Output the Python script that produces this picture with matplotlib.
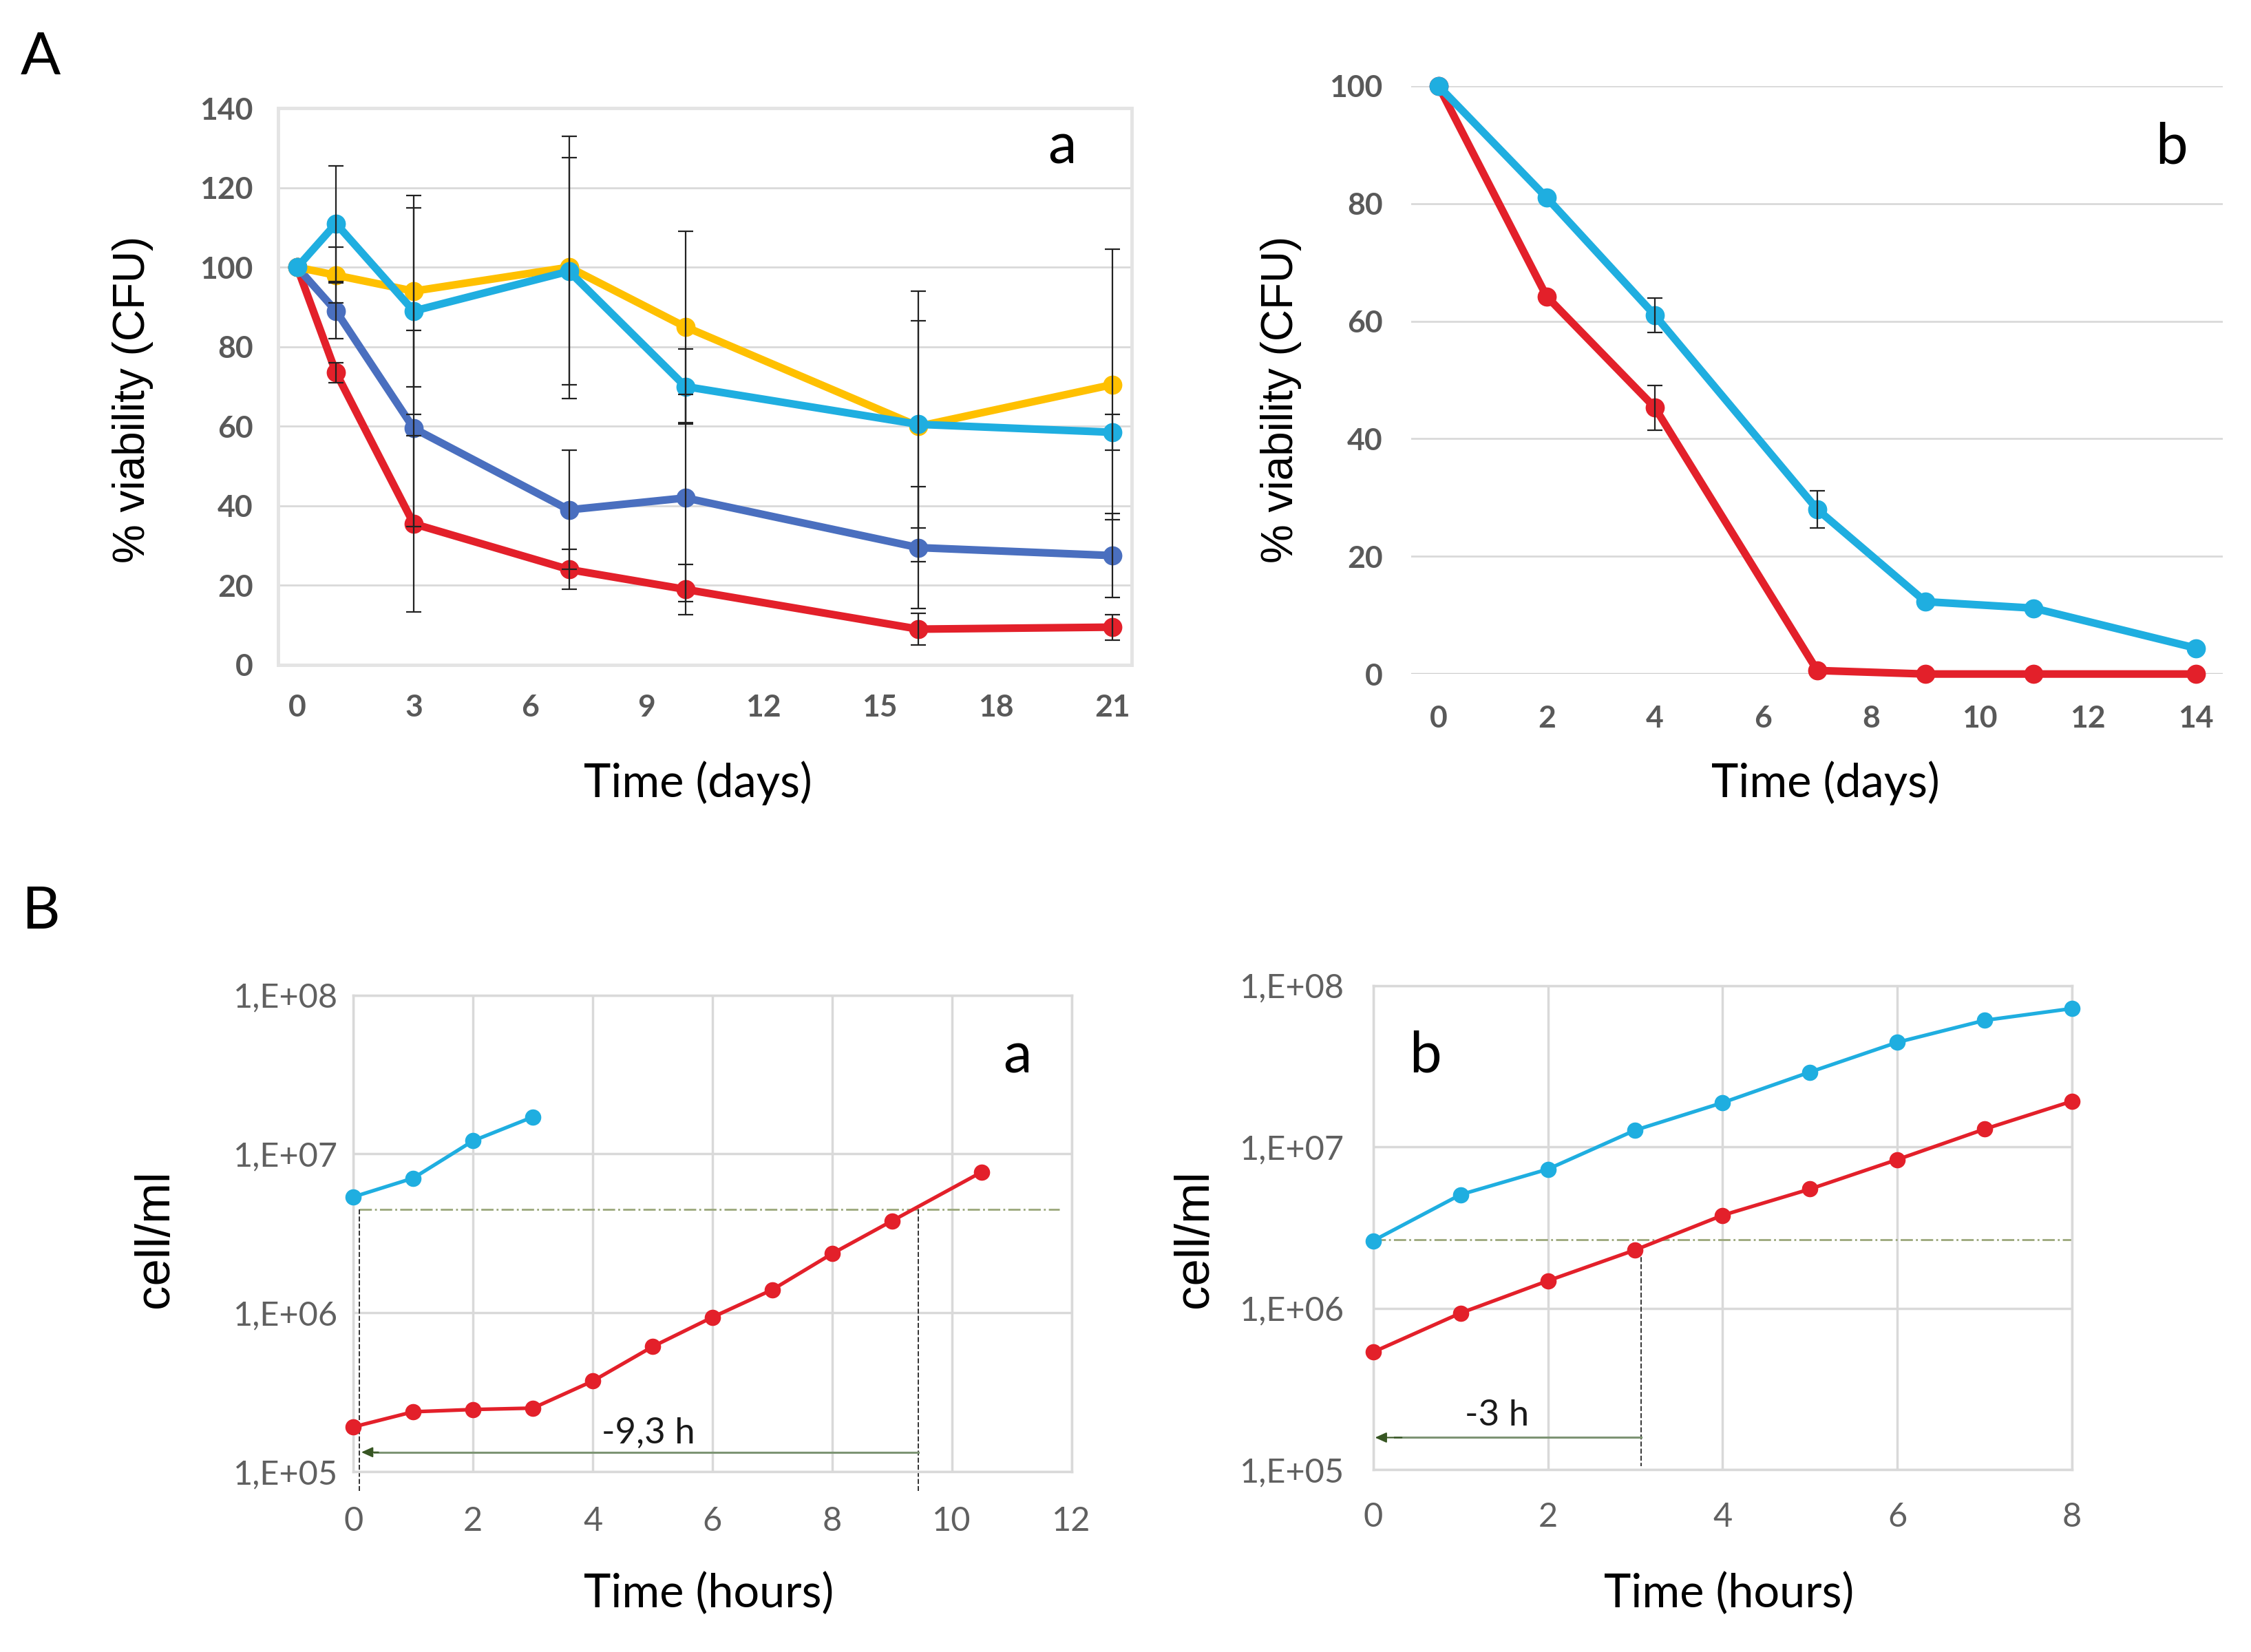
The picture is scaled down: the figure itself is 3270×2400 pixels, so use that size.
import matplotlib
matplotlib.use("Agg")
import matplotlib.pyplot as plt
from matplotlib.ticker import FixedLocator, NullLocator
import numpy as np

# ---------------- data ----------------
days_a = [0, 1, 3, 7, 10, 16, 21]
yellow_a = [100, 98, 94, 100, 85, 60, 70.5]
cyan_a = [100, 111, 89, 99, 70, 60.5, 58.5]
blue_a = [100, 89, 59.5, 39, 42, 29.5, 27.5]
red_a = [100, 73.5, 35.5, 24, 19, 9, 9.5]
yellow_a_err = [0, 7, 24, 33, 24, 34, 34]
cyan_a_err = [0, 14.5, 26, 28.5, 9.4, 26, 4.5]
blue_a_err = [0, 7, 24.7, 15, 26, 15.3, 10.5]
red_a_err = [0, 2.5, 22.2, 5, 6.3, 4, 3.2]

days_b = [0, 2, 4, 7, 9, 11, 14]
cyan_b = [100, 81, 61, 28, 12.3, 11.2, 4.4]
red_b = [100, 64.2, 45.3, 0.6, 0, 0, 0]
cyan_b_err = [0, 0, 2.9, 3.2, 0, 0, 0]
red_b_err = [0, 0, 3.8, 0, 0, 0, 0]

hours_Ba_cyan = [0, 1, 2, 3]
cyan_Ba = [5.37e6, 7.05e6, 1.21e7, 1.71e7]
hours_Ba_red = [0, 1, 2, 3, 4, 5, 6, 7, 8, 9, 10.5]
red_Ba = [1.92e5, 2.39e5, 2.47e5, 2.52e5, 3.73e5, 6.14e5, 9.4e5, 1.4e6, 2.36e6, 3.79e6, 7.7e6]
Ba_level = 4.49e6
Ba_lag_x = 9.44
Ba_lag_text = "-9,3 h"

hours_Bb = [0, 1, 2, 3, 4, 5, 6, 7, 8]
cyan_Bb = [2.62e6, 5.06e6, 7.28e6, 1.27e7, 1.88e7, 2.91e7, 4.45e7, 6.09e7, 7.21e7]
red_Bb = [5.35e5, 9.33e5, 1.48e6, 2.30e6, 3.77e6, 5.48e6, 8.35e6, 1.29e7, 1.92e7]
Bb_level = 2.65e6
Bb_lag_x = 3.07
Bb_lag_text = "-3 h"

log_ticks = [1e5, 1e6, 1e7, 1e8]
log_labels = ["1,E+05", "1,E+06", "1,E+07", "1,E+08"]

# ---------------- style ----------------
YEL = "#FFC000"
CYA = "#1FAEE0"
BLU = "#4A6FBF"
RED = "#E3202A"
GRID = "#D9D9D9"
TICK = "#595959"
FONT = "Lato"

fig = plt.figure(figsize=(32.7, 24), dpi=100)
fig.patch.set_facecolor("white")


def errs(ax, x, y, e, z=5):
    xs = [a for a, b in zip(x, e) if b > 0]
    ys = [a for a, b in zip(y, e) if b > 0]
    es = [b for b in e if b > 0]
    if xs:
        ax.errorbar(xs, ys, yerr=es, fmt="none", ecolor="#222222", elinewidth=1.6,
                    capsize=8, capthick=1.6, zorder=z)


def lag_arrow(ax, x0, x1, y):
    ax.plot([x0 + 0.25, x1], [y, y], color="#7D9474", lw=2.2, zorder=3)
    ax.annotate("", xy=(x0, y), xytext=(x0 + 0.35, y),
                arrowprops=dict(arrowstyle="-|>,head_length=1.0,head_width=0.45",
                                color="#375623", lw=1.5), zorder=3)


# ---------------- A a ----------------
axA = fig.add_axes([0.1234, 0.5975, 0.3795, 0.337])
axA.set_xlim(-0.5, 21.5)
axA.set_ylim(0, 140)
for yv in range(20, 141, 20):
    axA.axhline(yv, color=GRID, lw=2, zorder=0)
axA.axhline(0, color=GRID, lw=2.5, zorder=0)
for s in axA.spines.values():
    s.set_color("#E4E4E4")
    s.set_linewidth(3.5)
lw_a, ms_a = 8, 19
axA.plot(days_a, red_a, "-o", color=RED, lw=lw_a, ms=ms_a, zorder=3, clip_on=False)
axA.plot(days_a, blue_a, "-o", color=BLU, lw=lw_a, ms=ms_a, zorder=3, clip_on=False)
axA.plot(days_a, yellow_a, "-o", color=YEL, lw=lw_a, ms=ms_a, zorder=3, clip_on=False)
axA.plot(days_a, cyan_a, "-o", color=CYA, lw=lw_a, ms=ms_a, zorder=4, clip_on=False)
for ser, er in [(yellow_a, yellow_a_err), (cyan_a, cyan_a_err), (blue_a, blue_a_err), (red_a, red_a_err)]:
    errs(axA, days_a, ser, er)
axA.xaxis.set_major_locator(FixedLocator([0, 3, 6, 9, 12, 15, 18, 21]))
axA.yaxis.set_major_locator(FixedLocator(list(range(0, 141, 20))))
axA.tick_params(length=0, labelsize=32, labelcolor=TICK)
axA.tick_params(axis="y", pad=26)
axA.tick_params(axis="x", pad=30)
for lab in axA.get_xticklabels() + axA.get_yticklabels():
    lab.set_fontweight("bold")
    lab.set_family(FONT)
axA.text(19.7, 130, "a", fontsize=60, family=FONT, ha="center", va="center", color="black")

# ---------------- A b ----------------
axB = fig.add_axes([0.627, 0.592, 0.3606, 0.356])
axB.set_xlim(-0.5, 14.5)
axB.set_ylim(0, 100)
for yv in range(20, 101, 20):
    axB.axhline(yv, color=GRID, lw=2, zorder=0)
axB.axhline(0, color="#CFCFCF", lw=2.5, zorder=0)
for s in axB.spines.values():
    s.set_visible(False)
axB.plot(days_b, red_b, "-o", color=RED, lw=lw_a, ms=ms_a, zorder=3, clip_on=False)
axB.plot(days_b, cyan_b, "-o", color=CYA, lw=lw_a, ms=ms_a, zorder=4, clip_on=False)
errs(axB, days_b, cyan_b, cyan_b_err)
errs(axB, days_b, red_b, red_b_err)
axB.xaxis.set_major_locator(FixedLocator(list(range(0, 15, 2))))
axB.yaxis.set_major_locator(FixedLocator(list(range(0, 101, 20))))
axB.tick_params(length=0, labelsize=32, labelcolor=TICK)
axB.tick_params(axis="y", pad=30)
axB.tick_params(axis="x", pad=32)
for lab in axB.get_xticklabels() + axB.get_yticklabels():
    lab.set_fontweight("bold")
    lab.set_family(FONT)
axB.text(13.55, 89.5, "b", fontsize=60, family=FONT, ha="center", va="center", color="black")

# ---------------- B ----------------
lw_b, ms_b = 3.8, 16


def setup_log(ax, xmax, xstep, ypad, xpad):
    ax.set_yscale("log")
    ax.set_xlim(0, xmax)
    ax.set_ylim(1e5, 1e8)
    ax.yaxis.set_major_locator(FixedLocator(log_ticks))
    ax.yaxis.set_minor_locator(NullLocator())
    ax.set_yticklabels(log_labels)
    ax.xaxis.set_major_locator(FixedLocator(list(range(0, xmax + 1, xstep))))
    ax.grid(True, color=GRID, lw=2.5, zorder=0)
    ax.set_axisbelow(True)
    for s in ax.spines.values():
        s.set_color(GRID)
        s.set_linewidth(2.5)
    ax.tick_params(length=0, labelsize=35, labelcolor="#606060")
    ax.tick_params(axis="y", pad=ypad)
    ax.tick_params(axis="x", pad=xpad)
    for lab in ax.get_xticklabels() + ax.get_yticklabels():
        lab.set_fontweight("normal")
        lab.set_family(FONT)


axC = fig.add_axes([0.157, 0.109, 0.319, 0.2887])
setup_log(axC, 12, 2, 16, 36)
axC.plot([0.1, 11.8], [Ba_level, Ba_level], linestyle="-.", color="#9AA77A", lw=2, zorder=2)
axC.plot([0.1, 0.1], [Ba_level, 10 ** 4.88], linestyle="--", color="#333333", lw=1.4, zorder=2, clip_on=False)
axC.plot([Ba_lag_x, Ba_lag_x], [Ba_level, 10 ** 4.88], linestyle="--", color="#333333", lw=1.4, zorder=2, clip_on=False)
lag_arrow(axC, 0.1, Ba_lag_x, 1.33e5)
axC.text(4.93, 1.74e5, Ba_lag_text, fontsize=38, family=FONT, ha="center", va="center", color="#1A1A1A")
axC.plot(hours_Ba_cyan, cyan_Ba, "-o", color=CYA, lw=lw_b, ms=ms_b, zorder=4, clip_on=False)
axC.plot(hours_Ba_red, red_Ba, "-o", color=RED, lw=lw_b, ms=ms_b, zorder=4, clip_on=False)
axC.text(11.1, 10 ** 7.61, "a", fontsize=60, family=FONT, ha="center", va="center", color="black")

axD = fig.add_axes([0.610, 0.1104, 0.3105, 0.293])
setup_log(axD, 8, 2, 30, 34)
axD.plot([0, 8], [Bb_level, Bb_level], linestyle="-.", color="#9AA77A", lw=2, zorder=2)
axD.plot([Bb_lag_x, Bb_lag_x], [red_Bb[3], 1.05e5], linestyle="--", color="#333333", lw=1.4, zorder=2)
lag_arrow(axD, 0.0, Bb_lag_x, 1.58e5)
axD.text(1.42, 2.16e5, Bb_lag_text, fontsize=38, family=FONT, ha="center", va="center", color="#1A1A1A")
axD.plot(hours_Bb, cyan_Bb, "-o", color=CYA, lw=lw_b, ms=ms_b, zorder=4, clip_on=False)
axD.plot(hours_Bb, red_Bb, "-o", color=RED, lw=lw_b, ms=ms_b, zorder=4, clip_on=False)
axD.text(0.6, 10 ** 7.56, "b", fontsize=60, family=FONT, ha="center", va="center", color="black")

# ---------------- labels ----------------
YLF = "Liberation Sans"
fig.text(0.059, 0.758, "% viability (CFU)", rotation=90, fontsize=46, family=YLF, ha="center", va="center")
fig.text(0.569, 0.758, "% viability (CFU)", rotation=90, fontsize=46, family=YLF, ha="center", va="center")
fig.text(0.310, 0.526, "Time (days)", fontsize=48, family=FONT, ha="center", va="center")
fig.text(0.811, 0.526, "Time (days)", fontsize=48, family=FONT, ha="center", va="center")
fig.text(0.069, 0.250, "cell/ml", rotation=90, fontsize=51, family=YLF, ha="center", va="center")
fig.text(0.531, 0.250, "cell/ml", rotation=90, fontsize=51, family=YLF, ha="center", va="center")
fig.text(0.315, 0.035, "Time (hours)", fontsize=48, family=FONT, ha="center", va="center")
fig.text(0.768, 0.035, "Time (hours)", fontsize=48, family=FONT, ha="center", va="center")
fig.text(0.018, 0.965, "A", fontsize=62, family=FONT, ha="center", va="center")
fig.text(0.018, 0.448, "B", fontsize=62, family=FONT, ha="center", va="center")

fig.savefig("out.png", dpi=100, facecolor="white")
